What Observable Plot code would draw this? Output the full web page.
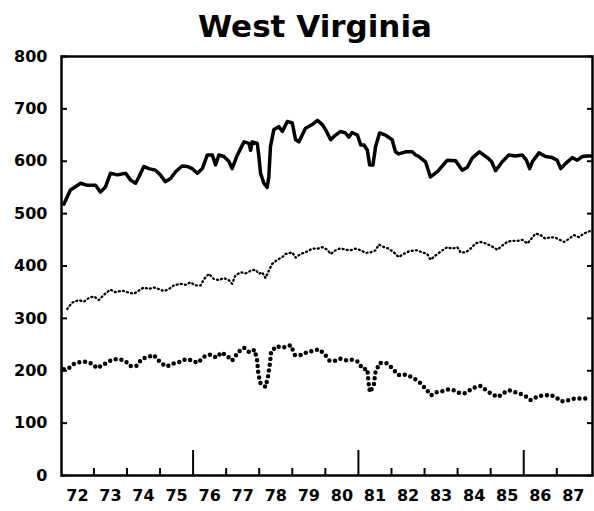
<!DOCTYPE html>
<html><head><meta charset="utf-8">
<script src="https://cdn.jsdelivr.net/npm/d3@7"></script>
<script src="https://cdn.jsdelivr.net/npm/@observablehq/plot@0.6"></script>
<style>body{margin:0;background:#fff} svg{display:block}</style>
</head><body><div id="chart"></div>
<script>
const title = ["West Virginia"];
const yTicks = [0, 100, 200, 300, 400, 500, 600, 700, 800];
const minorYearTicks = [1973, 1974, 1975, 1977, 1978, 1979, 1980, 1982, 1983, 1984, 1985, 1987];
const majorYearTicks = [1976, 1981, 1986];
const yearLabels = ["72","73","74","75","76","77","78","79","80","81","82","83","84","85","86","87"];
const yearLabelPos = [1972.5,1973.5,1974.5,1975.5,1976.5,1977.5,1978.5,1979.5,1980.5,1981.5,1982.5,1983.5,1984.5,1985.5,1986.5,1987.5];

// solid series
const solidYears = [1972.09,1972.29,1972.60,1972.80,1973.05,1973.20,1973.35,1973.50,1973.71,1973.96,1974.11,1974.26,1974.36,1974.51,1974.66,1974.86,1975.01,1975.16,1975.32,1975.47,1975.67,1975.82,1975.97,1976.13,1976.28,1976.43,1976.58,1976.68,1976.78,1976.93,1977.08,1977.18,1977.34,1977.54,1977.69,1977.74,1977.79,1977.94,1977.99,1978.04,1978.14,1978.24,1978.29,1978.34,1978.44,1978.59,1978.70,1978.85,1979.00,1979.10,1979.20,1979.40,1979.60,1979.76,1979.91,1980.01,1980.16,1980.31,1980.46,1980.61,1980.71,1980.81,1980.97,1981.07,1981.17,1981.27,1981.34,1981.44,1981.52,1981.64,1981.82,1982.02,1982.12,1982.22,1982.43,1982.63,1982.73,1982.83,1983.03,1983.18,1983.39,1983.69,1983.94,1984.14,1984.29,1984.44,1984.66,1984.90,1985.03,1985.15,1985.35,1985.55,1985.75,1985.95,1986.08,1986.18,1986.26,1986.46,1986.66,1986.86,1987.01,1987.12,1987.27,1987.47,1987.62,1987.77,1987.92,1988.04];
const solidValues = [518,545,558,554,554,541,551,577,574,577,564,558,570,590,586,583,574,561,567,580,591,590,586,577,586,612,612,593,612,609,600,586,612,637,634,621,637,634,609,577,558,550,570,628,660,666,657,676,673,641,637,663,670,678,670,660,641,650,657,654,646,655,650,631,631,621,593,593,628,654,650,641,618,614,618,618,612,609,599,570,580,602,601,583,588,606,618,607,599,582,599,612,610,612,602,586,599,616,609,607,602,586,596,607,602,609,610,610];

// fine dotted series
const fineYears = [1972.19,1972.34,1972.54,1972.70,1972.85,1973.00,1973.15,1973.30,1973.50,1973.65,1973.86,1974.01,1974.21,1974.36,1974.51,1974.66,1974.81,1974.96,1975.12,1975.27,1975.42,1975.62,1975.77,1975.92,1976.07,1976.23,1976.33,1976.48,1976.63,1976.78,1976.93,1977.08,1977.18,1977.28,1977.44,1977.59,1977.74,1977.89,1977.99,1978.09,1978.19,1978.29,1978.39,1978.55,1978.70,1978.80,1979.00,1979.10,1979.25,1979.40,1979.60,1979.76,1979.91,1980.06,1980.16,1980.31,1980.46,1980.61,1980.76,1980.91,1981.07,1981.22,1981.37,1981.52,1981.62,1981.77,1981.92,1982.07,1982.22,1982.37,1982.53,1982.68,1982.78,1982.93,1983.08,1983.18,1983.33,1983.54,1983.69,1983.84,1983.99,1984.09,1984.24,1984.39,1984.54,1984.70,1984.85,1985.00,1985.20,1985.35,1985.50,1985.65,1985.81,1985.96,1986.11,1986.36,1986.51,1986.66,1986.81,1986.96,1987.12,1987.22,1987.37,1987.52,1987.67,1987.82,1988.02];
const fineValues = [318,330,335,332,339,342,335,345,355,350,353,350,347,353,359,356,359,356,352,356,363,366,364,369,363,363,375,385,375,373,377,373,366,382,388,386,391,393,385,388,377,391,404,412,417,423,426,416,423,426,433,433,436,431,423,430,434,431,430,433,430,425,426,430,441,436,433,426,417,423,428,430,430,426,423,412,420,430,436,433,436,426,426,433,443,446,443,439,431,439,446,448,448,450,443,462,459,452,455,454,449,446,452,459,455,462,467];

// coarse dotted series
const coarseYears = [1972.09,1972.24,1972.42,1972.60,1972.77,1972.93,1973.10,1973.27,1973.43,1973.60,1973.78,1973.94,1974.11,1974.28,1974.44,1974.61,1974.81,1975.02,1975.19,1975.45,1975.62,1975.77,1975.95,1976.13,1976.36,1976.53,1976.70,1976.86,1977.05,1977.18,1977.37,1977.54,1977.71,1977.86,1977.94,1977.97,1978.03,1978.09,1978.19,1978.27,1978.32,1978.36,1978.52,1978.73,1978.95,1979.08,1979.28,1979.45,1979.62,1979.79,1979.96,1980.13,1980.29,1980.46,1980.63,1980.79,1981.00,1981.12,1981.27,1981.30,1981.35,1981.47,1981.51,1981.64,1981.87,1982.05,1982.21,1982.38,1982.65,1982.86,1983.03,1983.20,1983.36,1983.54,1983.71,1983.87,1984.04,1984.21,1984.37,1984.54,1984.70,1984.90,1985.05,1985.22,1985.38,1985.55,1985.75,1986.03,1986.21,1986.46,1986.63,1986.79,1986.96,1987.12,1987.27,1987.44,1987.64,1987.87];
const coarseValues = [203,205,214,217,217,214,205,211,217,222,222,219,209,209,222,226,230,215,208,215,217,222,220,215,228,231,225,235,227,219,236,244,235,240,219,196,177,174,169,190,212,236,247,244,249,230,230,236,238,241,233,219,219,223,220,221,217,204,203,180,159,174,196,215,214,203,192,193,187,177,166,153,159,161,164,163,158,157,163,169,171,161,155,150,157,163,159,153,144,152,153,154,150,142,142,146,147,147];

const toRows = (xs, ys) => xs.map((x, i) => ({x, y: ys[i]}));
const solid = toRows(solidYears, solidValues);
const fine = toRows(fineYears, fineValues);
const coarse = toRows(coarseYears, coarseValues);

const font = "DejaVu Sans, sans-serif";
const chart = Plot.plot({
  width: 594,
  height: 511,
  marginLeft: 61,
  marginRight: 2,
  marginTop: 56,
  marginBottom: 36,
  style: {fontFamily: font, background: "#fff", color: "#000"},
  x: {domain: [1972.02, 1988.08], axis: null},
  y: {domain: [0, 800], axis: null},
  marks: [
    Plot.axisY({ticks: yTicks, tickSize: 0, tickPadding: 14, fontSize: 16, fontWeight: "bold", label: null, tickFormat: d => String(d)}),
    Plot.axisY({ticks: yTicks, tickSize: 6, dx: 6, text: null, label: null, strokeWidth: 2}),
    Plot.axisY({ticks: yTicks, anchor: "right", tickSize: 6, dx: -6, text: null, label: null, strokeWidth: 2}),
    Plot.axisX({ticks: minorYearTicks, tickSize: 7, dy: -7, text: null, label: null, strokeWidth: 2}),
    Plot.axisX({ticks: majorYearTicks, tickSize: 25, dy: -25, text: null, label: null, strokeWidth: 2}),
    Plot.axisX({ticks: yearLabelPos, tickSize: 0, tickPadding: 14, fontSize: 16, fontWeight: "bold", label: null, tickFormat: (d, i) => yearLabels[i]}),
    Plot.frame({stroke: "#000", strokeWidth: 2.5}),
    Plot.line(solid, {x: "x", y: "y", stroke: "#000", strokeWidth: 3.5, strokeLinejoin: "round"}),
    Plot.line(fine, {x: "x", y: "y", stroke: "#000", strokeWidth: 2.3, strokeLinecap: "round", strokeDasharray: "1,3.2"}),
    Plot.line(coarse, {x: "x", y: "y", stroke: "#000", strokeWidth: 4.5, strokeLinecap: "round", strokeDasharray: "0,5.8"}),
    Plot.text(title, {frameAnchor: "top", lineAnchor: "bottom", dx: -12, dy: -20, fontSize: 31, fontWeight: "bold", fill: "#000"})
  ]
});
document.getElementById("chart").append(chart);
</script>
</body></html>
